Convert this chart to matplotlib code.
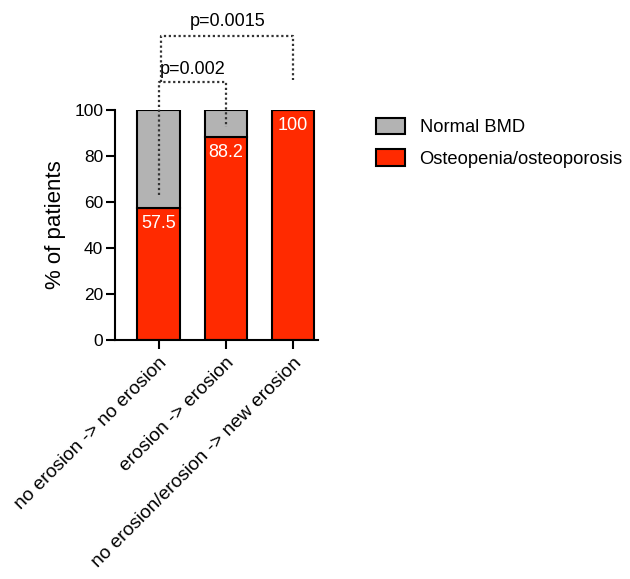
import matplotlib.pyplot as plt

plt.rcParams['font.family'] = ['Liberation Sans', 'DejaVu Sans']

groups = ['no erosion -> no erosion', 'erosion -> erosion', 'no erosion/erosion -> new erosion']
osteo = [57.5, 88.2, 100]
normal = [42.5, 11.8, 0]
osteo_labels = ['57.5', '88.2', '100']

RED = '#ff2a00'
GREY = '#b3b3b3'

fig = plt.figure(figsize=(6.3, 5.79), dpi=100)
ax = fig.add_axes([0.1825, 0.413, 0.323, 0.397])

x = list(range(len(groups)))
ax.bar(x, osteo, width=0.63, color=RED, edgecolor='black', linewidth=1.5,
       label='Osteopenia/osteoporosis', zorder=2)
ax.bar(x, normal, width=0.63, bottom=osteo, color=GREY, edgecolor='black',
       linewidth=1.5, label='Normal BMD', zorder=2)

for xi, v, lab in zip(x, osteo, osteo_labels):
    ax.annotate(lab, (xi, v), xytext=(0, -5), textcoords='offset points',
                ha='center', va='top', color='white', fontsize=13)

# significance brackets
ax.plot([0, 0, 1, 1], [63, 112, 112, 92.5], color='#333333', linestyle=(0, (1, 1.2)),
        linewidth=1.6, clip_on=False, zorder=3)
ax.text(0.5, 114, 'p=0.002', ha='center', va='bottom', fontsize=13)
ax.plot([0.03, 0.03, 2, 2], [112, 132, 132, 113], color='#333333', linestyle=(0, (1, 1.2)),
        linewidth=1.6, clip_on=False, zorder=3)
ax.text(1.03, 135, 'p=0.0015', ha='center', va='bottom', fontsize=13)

ax.set_xlim(-0.65, 2.38)
ax.set_ylim(0, 100)
ax.set_yticks([0, 20, 40, 60, 80, 100])
ax.set_xticks(x)
ax.set_xticklabels(groups, rotation=45, ha='right', rotation_mode='anchor', fontsize=13.8)
ax.tick_params(axis='y', labelsize=12.5, width=1.5, length=6.5, pad=2)
ax.tick_params(axis='x', width=1.5, length=6.5, pad=4)
ax.set_ylabel('% of patients', fontsize=16, labelpad=6)

for s in ['top', 'right']:
    ax.spines[s].set_visible(False)
for s in ['left', 'bottom']:
    ax.spines[s].set_linewidth(1.5)

handles, labels = ax.get_legend_handles_labels()
fig.legend(handles[::-1], labels[::-1], loc='upper left', bbox_to_anchor=(0.57, 0.825),
           frameon=False, fontsize=13.2, handlelength=1.6, handleheight=1.0,
           labelspacing=0.7, handletextpad=0.8)

fig.savefig('out.png', dpi=100)
